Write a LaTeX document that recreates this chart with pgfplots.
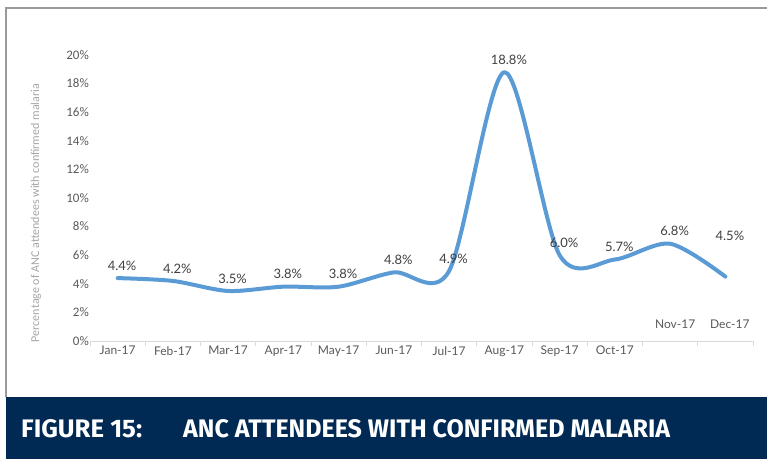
\documentclass[border=0pt]{standalone}
\usepackage{fontspec}
\setmainfont{Lato}
\newfontfamily\calfont{Carlito}
\newfontfamily\bannerfont{Fira Sans}
\usepackage{graphicx}
\usepackage{pgfplots}
\pgfplotsset{compat=1.18}
\definecolor{linecol}{HTML}{5B9BD5}
\definecolor{navy}{HTML}{002A54}
\definecolor{ticktxt}{HTML}{595959}
\definecolor{lbltxt}{HTML}{404040}
\definecolor{axgray}{HTML}{D9D9D9}
\definecolor{framegray}{HTML}{9A9A9A}
\begin{document}
\begin{tikzpicture}[x=1pt,y=1pt]
\path[use as bounding box] (0,0) rectangle (767,459);
% frame
\draw[framegray, line width=2pt] (6,62) -- (6,451) -- (767,451);
% banner
\fill[navy] (6,0) rectangle (767,62);
\node[anchor=south west, inner sep=0pt, text=white] at (21,21)
  {\resizebox{121pt}{18pt}{\bannerfont\bfseries FIGURE 15:}};
\node[anchor=south west, inner sep=0pt, text=white] at (183,21)
  {\resizebox{487pt}{18pt}{\bannerfont\bfseries ANC ATTENDEES WITH CONFIRMED MALARIA}};
% y label
\node[rotate=90, text=black!35, inner sep=0pt] at (36,246)
  {\calfont\fontsize{12}{14}\selectfont Percentage of ANC attendees with confirmed malaria};
\begin{axis}[
  at={(90pt,118pt)}, anchor=south west,
  scale only axis, width=663pt, height=286pt,
  xmin=0.5, xmax=12.5, ymin=0, ymax=20,
  clip=false,
  axis x line*=bottom, axis y line*=left,
  x axis line style={axgray, line width=1pt, -},
  y axis line style={draw=none},
  xtick={1,...,12},
  xticklabels={Jan-17,Feb-17,Mar-17,Apr-17,May-17,Jun-17,Jul-17,Aug-17,Sep-17,Oct-17,,},
  major tick length=0pt,
  xticklabel style={text=ticktxt, font=\fontsize{12}{14}\selectfont, inner sep=0pt, yshift=-5pt, anchor=north},
  extra x ticks={0.5,1.5,...,12.5},
  extra x tick labels={},
  extra x tick style={major tick length=5pt, tick align=outside, tick style={axgray, line width=1pt}},
  ytick={0,2,...,20},
  yticklabels={0\%,2\%,4\%,6\%,8\%,10\%,12\%,14\%,16\%,18\%,20\%},
  yticklabel style={text=ticktxt, font=\calfont\fontsize{13}{15}\selectfont, inner sep=0pt, xshift=-1pt, anchor=east},
  ytick style={draw=none},
]
\addplot[linecol, line width=4pt, smooth, tension=0.5, line cap=round, line join=round]
  coordinates {(1,4.4) (2,4.2) (3,3.5) (4,3.8) (5,3.8) (6,4.8) (7,4.9) (8,18.8) (9,6.0) (10,5.7) (11,6.8) (12,4.5)};
\addplot[draw=none, mark=none, point meta=explicit symbolic, nodes near coords,
  every node near coord/.append style={anchor=center, xshift=4.5pt, yshift=12.5pt, text=lbltxt, font=\fontsize{13}{15}\selectfont, inner sep=0pt}]
  coordinates {(1,4.4)[4.4\%] (2,4.2)[4.2\%] (3,3.5)[3.5\%] (4,3.8)[3.8\%] (5,3.8)[3.8\%] (6,4.8)[4.8\%] (7,4.9)[4.9\%] (8,18.8)[18.8\%] (9,6.0)[6.0\%] (10,5.7)[5.7\%] (11,6.8)[6.8\%]};
\addplot[draw=none, mark=none, point meta=explicit symbolic, nodes near coords,
  every node near coord/.append style={anchor=center, xshift=4.5pt, yshift=40.5pt, text=lbltxt, font=\fontsize{13}{15}\selectfont, inner sep=0pt}]
  coordinates {(12,4.5)[4.5\%]};
\node[text=ticktxt, font=\fontsize{12}{14}\selectfont, inner sep=0pt] at (axis cs:11.09,1.19) {Nov-17};
\node[text=ticktxt, font=\fontsize{12}{14}\selectfont, inner sep=0pt] at (axis cs:12.08,1.19) {Dec-17};
\end{axis}
\end{tikzpicture}
\end{document}
